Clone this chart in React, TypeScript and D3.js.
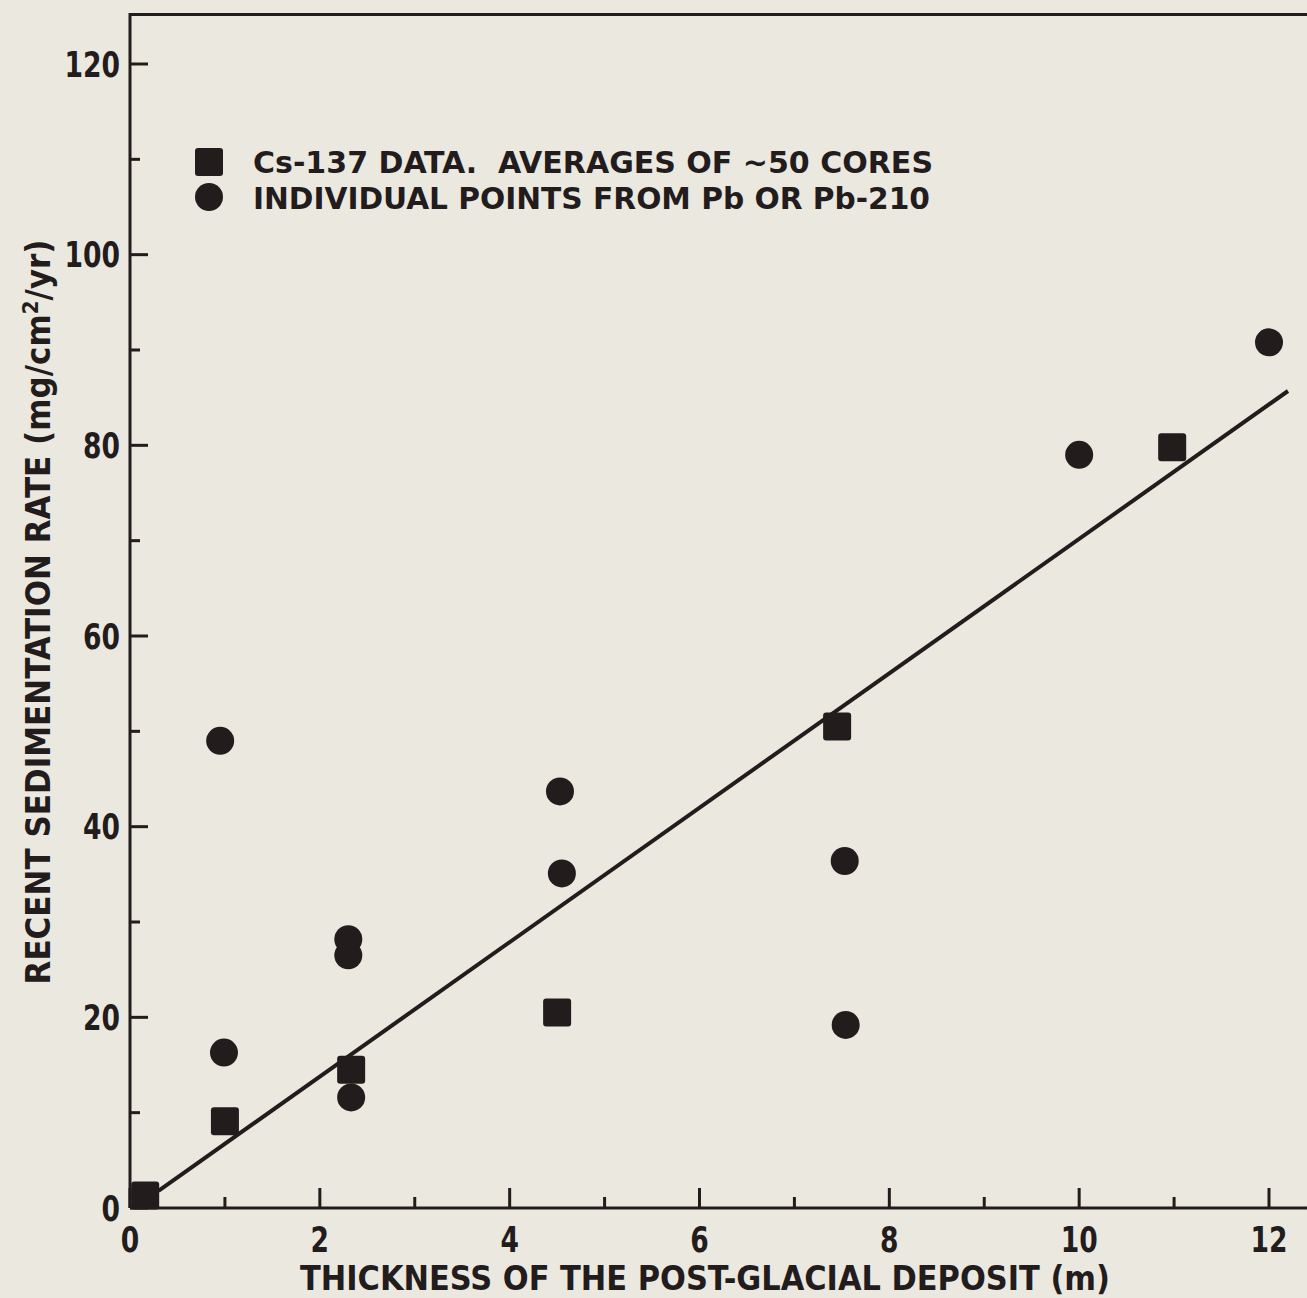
import React from 'react';
import * as d3 from 'd3';

// values
const csX = [0.16, 1.0, 2.33, 4.5, 7.45, 10.98];
const csY = [1.3, 9.1, 14.5, 20.5, 50.5, 79.8];
const pbX = [0.95, 0.99, 2.3, 2.3, 2.33, 4.53, 4.55, 7.53, 7.54, 10.0, 12.0];
const pbY = [49.0, 16.3, 28.2, 26.5, 11.6, 43.7, 35.1, 36.4, 19.2, 79.0, 90.8];
const fitX = [0.3, 12.2];
const fitY = [1.8, 85.7];
const xMajor = [0, 2, 4, 6, 8, 10, 12];
const xMinor = [1, 3, 5, 7, 9, 11];
const yMajor = [0, 20, 40, 60, 80, 100, 120];
const yMinor = [10, 30, 50, 70, 90, 110];
const xLabels = ['0', '2', '4', '6', '8', '10', '12'];
const yLabels = ['0', '20', '40', '60', '80', '100', '120'];
const legendLabels = ['Cs-137 DATA.\u00a0 AVERAGES OF ~50 CORES', 'INDIVIDUAL POINTS FROM Pb OR Pb-210'];

const W = 1307;
const H = 1298;
const ink = '#231c1c';
const bg = '#ebe8e0';
const font = "'DejaVu Sans Condensed', 'Liberation Sans Narrow', 'DejaVu Sans', sans-serif";

export default function App() {
  const x = d3.scaleLinear().domain([0, 12]).range([130, 1269]);
  const y = d3.scaleLinear().domain([0, 120]).range([1208, 64]);
  const xEnd = x(12.4);
  const yTop = y(125.2);

  const cs = csX.map((v, i) => [v, csY[i]]);
  const pb = pbX.map((v, i) => [v, pbY[i]]);
  const fit = fitX.map((v, i) => [v, fitY[i]] as [number, number]);
  const line = d3.line<[number, number]>().x((d) => x(d[0])).y((d) => y(d[1]));

  const sq = 28;
  const r = 14;
  const charW = 18.5;

  return (
    <svg width={W} height={H} style={{ position: 'absolute', left: 0, top: 0 }}
      fontFamily={font} fontWeight="bold" fill={ink}>
      <rect width={W} height={H} fill={bg} />

      {/* frame */}
      <path d={`M${x(0)},${y(0)}V${yTop}H${W}`} fill="none" stroke={ink} strokeWidth={3} />
      <line x1={x(0)} x2={xEnd} y1={y(0)} y2={y(0)} stroke={ink} strokeWidth={3} />

      {/* y ticks */}
      {yMajor.map((v) => (
        <line key={'ym' + v} x1={x(0)} x2={x(0) + 18} y1={y(v)} y2={y(v)} stroke={ink} strokeWidth={3} />
      ))}
      {yMinor.map((v) => (
        <line key={'yn' + v} x1={x(0)} x2={x(0) + 10} y1={y(v)} y2={y(v)} stroke={ink} strokeWidth={3} />
      ))}
      {yMajor.map((v, i) => (
        <text key={'yl' + v} x={x(0) - 10} y={y(v)} dy="0.36em" textAnchor="end" fontSize={35}
          textLength={charW * yLabels[i].length} lengthAdjust="spacingAndGlyphs">
          {yLabels[i]}
        </text>
      ))}

      {/* x ticks */}
      {xMajor.map((v) => (
        <line key={'xm' + v} x1={x(v)} x2={x(v)} y1={y(0)} y2={y(0) - 20} stroke={ink} strokeWidth={3} />
      ))}
      {xMinor.map((v) => (
        <line key={'xn' + v} x1={x(v)} x2={x(v)} y1={y(0)} y2={y(0) - 11} stroke={ink} strokeWidth={3} />
      ))}
      {xMajor.map((v, i) => (
        <text key={'xl' + v} x={x(v)} y={y(0) + 44} textAnchor="middle" fontSize={35}
          textLength={charW * xLabels[i].length} lengthAdjust="spacingAndGlyphs">
          {xLabels[i]}
        </text>
      ))}

      {/* axis titles */}
      <text x={705} y={1290} textAnchor="middle" fontSize={33} textLength={810} lengthAdjust="spacingAndGlyphs">
        THICKNESS OF THE POST-GLACIAL DEPOSIT (m)
      </text>
      <text transform="translate(50,612) rotate(-90)" textAnchor="middle" fontSize={33}
        textLength={745} lengthAdjust="spacingAndGlyphs">
        RECENT SEDIMENTATION RATE (mg/cm<tspan baselineShift="super" fontSize={21}>2</tspan>/yr)
      </text>

      {/* fit line */}
      <path d={line(fit) || ''} fill="none" stroke={ink} strokeWidth={4} />

      {/* points */}
      {cs.map((d, i) => (
        <rect key={'c' + i} x={x(d[0]) - sq / 2} y={y(d[1]) - sq / 2} width={sq} height={sq} rx={3} />
      ))}
      {pb.map((d, i) => (
        <circle key={'p' + i} cx={x(d[0])} cy={y(d[1])} r={r} />
      ))}

      {/* legend */}
      <rect x={195} y={148} width={sq} height={sq} rx={3} />
      <text x={253} y={173} fontSize={31} textLength={680} lengthAdjust="spacingAndGlyphs">
        {legendLabels[0]}
      </text>
      <circle cx={209} cy={197} r={r} />
      <text x={253} y={209} fontSize={31} textLength={677} lengthAdjust="spacingAndGlyphs">
        {legendLabels[1]}
      </text>
    </svg>
  );
}
